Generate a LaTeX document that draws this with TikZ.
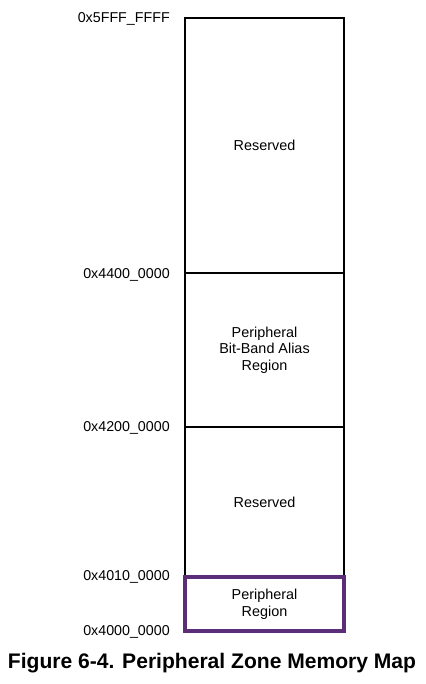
\documentclass[tikz,border=0pt]{standalone}
\usepackage{fontspec}
\setmainfont{Liberation Sans}
\usetikzlibrary{positioning}
\definecolor{zonepurple}{RGB}{92,45,120}

\begin{document}
\begin{tikzpicture}[x=0.75pt,y=-0.75pt]
  \tikzset{region/.style={draw,line width=1.1pt,minimum width=119.25pt,inner sep=0pt,
             outer sep=0pt,align=center,font=\fontsize{10.8}{12.5}\selectfont},
           addr/.style={anchor=east,inner sep=0pt,font=\fontsize{10.7}{12.5}\selectfont}}
  \useasboundingbox (0,0) rectangle (425,684);
  \node[region,minimum height=191.25pt,anchor=north west] (resvA) at (185,18) {Reserved};
  \node[region,minimum height=115.5pt,below=0pt of resvA] (alias) {Peripheral\\Bit-Band Alias\\Region};
  \node[region,minimum height=112.5pt,below=0pt of alias] (resvB) {Reserved};
  \node[region,minimum height=40.5pt,below=0pt of resvB,draw=zonepurple,line width=3.4pt] (periph) {Peripheral\\Region};
  % addresses
  \node[addr] (a5fff) at (170,18.5) {0x5FFF\_FFFF};
  \node[addr] (a4400) at (170,274.5) {0x4400\_0000};
  \node[addr] (a4200) at (170,427.5) {0x4200\_0000};
  \node[addr] (a4010) at (170,576.5) {0x4010\_0000};
  \node[addr] (a4000) at (170,631.5) {0x4000\_0000};
  \node[font=\fontsize{15.8}{18}\selectfont\bfseries] (title) at (212,663) {Figure 6-4. Peripheral Zone Memory Map};
\end{tikzpicture}
\end{document}
